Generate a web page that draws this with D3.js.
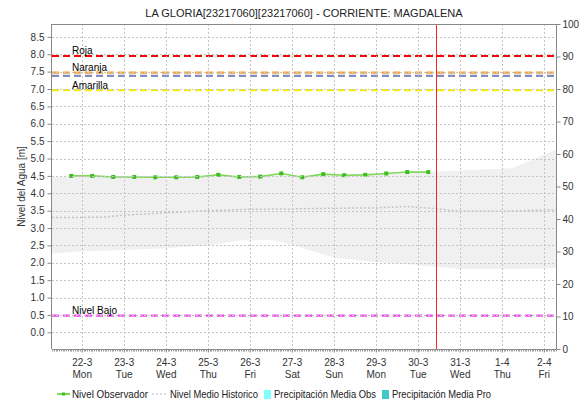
<!DOCTYPE html>
<html>
<head>
<meta charset="utf-8">
<script src="https://cdn.jsdelivr.net/npm/d3@7"></script>
<style>
  html, body { margin: 0; padding: 0; background: #ffffff; }
  svg { display: block; font-family: "Liberation Sans", Arial, sans-serif; }
</style>
</head>
<body>
<svg id="chart" width="582" height="404"></svg>
<script>
// Observed water level (m), every 12 hours
const obsTimes = [
  "2021-03-21T18:00", "2021-03-22T06:00", "2021-03-22T18:00", "2021-03-23T06:00",
  "2021-03-23T18:00", "2021-03-24T06:00", "2021-03-24T18:00", "2021-03-25T06:00",
  "2021-03-25T18:00", "2021-03-26T06:00", "2021-03-26T18:00", "2021-03-27T06:00",
  "2021-03-27T18:00", "2021-03-28T06:00", "2021-03-28T18:00", "2021-03-29T06:00",
  "2021-03-29T18:00", "2021-03-30T06:00"
];
const obsValues = [4.50, 4.50, 4.47, 4.47, 4.46, 4.46, 4.47, 4.53, 4.47, 4.48,
                   4.57, 4.46, 4.55, 4.52, 4.53, 4.57, 4.61, 4.61];

// Historical envelope: lower bound (m)
const histLowTimes = [
  "2021-03-21T07:00", "2021-03-22T00:00", "2021-03-23T00:00", "2021-03-24T00:00",
  "2021-03-25T00:00", "2021-03-25T18:00", "2021-03-26T12:00", "2021-03-27T00:00",
  "2021-03-28T00:00", "2021-03-29T00:00", "2021-03-30T00:00", "2021-03-31T00:00",
  "2021-04-01T00:00", "2021-04-02T07:00"
];
const histLowValues = [2.27, 2.33, 2.37, 2.42, 2.50, 2.64, 2.66, 2.52, 2.15, 2.02,
                       1.94, 1.82, 1.82, 1.84];

// Historical envelope: upper bound (m)
const histHighTimes = [
  "2021-03-21T07:00", "2021-03-24T00:00", "2021-03-27T00:00", "2021-03-29T00:00",
  "2021-03-30T12:00", "2021-04-01T06:00", "2021-04-02T07:00"
];
const histHighValues = [4.47, 4.47, 4.50, 4.55, 4.63, 4.72, 5.25];

// Historical mean level (m)
const histMeanTimes = [
  "2021-03-21T07:00", "2021-03-22T12:00", "2021-03-23T00:00", "2021-03-24T00:00",
  "2021-03-25T00:00", "2021-03-26T00:00", "2021-03-27T00:00", "2021-03-28T00:00",
  "2021-03-29T00:00", "2021-03-29T18:00", "2021-03-30T12:00", "2021-03-31T00:00",
  "2021-04-01T00:00", "2021-04-02T07:00"
];
const histMeanValues = [3.30, 3.31, 3.37, 3.44, 3.50, 3.54, 3.55, 3.57, 3.58, 3.62,
                        3.55, 3.48, 3.48, 3.53];

// Alert thresholds (m)
const thresholdNames  = ["Roja", "Naranja", "", "Amarilla", "Nivel Bajo"];
const thresholdValues = [7.95, 7.47, 7.38, 6.97, 0.48];
const thresholdColors = ["#ff0000", "#f5a030", "#7f8dbf", "#f4f000", "#ee44ee"];

// Current time marker
const nowTime = "2021-03-30T10:30";

// Axis ticks
const levelTicks = d3.range(0, 8.51, 0.5);
const precipTicks = [0, 10, 20, 30, 40, 50, 60, 70, 80, 90, 100];

const title = "LA GLORIA[23217060][23217060] - CORRIENTE: MAGDALENA";
const yTitle = "Nivel del Agua [m]";
const legendItems = ["Nivel Observador", "Nivel Medio Historico",
                     "Precipitación Media Obs", "Precipitación Media Pro"];

const parse = d3.timeParse("%Y-%m-%dT%H:%M");
const margin = { left: 52, right: 556, top: 24, bottom: 349 };

const svg = d3.select("#chart");

const x = d3.scaleTime()
  .domain([parse("2021-03-21T07:00"), parse("2021-04-02T07:00")])
  .range([margin.left, margin.right]);
const y = d3.scaleLinear().domain([-0.48, 8.87]).range([margin.bottom, margin.top]);
const y2 = d3.scaleLinear().domain([0, 100]).range([margin.bottom, margin.top]);

svg.append("defs").append("clipPath").attr("id", "plot-clip")
  .append("rect")
  .attr("x", margin.left).attr("y", margin.top)
  .attr("width", margin.right - margin.left).attr("height", margin.bottom - margin.top);

const plot = svg.append("g").attr("clip-path", "url(#plot-clip)");

// Historical envelope band (bounds linearly joined between their own sample times)
function interpAt(times, values, t) {
  const d = parse(t).getTime();
  const ts = times.map(s => parse(s).getTime());
  const i = d3.bisectRight(ts, d);
  if (i <= 0) return values[0];
  if (i >= ts.length) return values[ts.length - 1];
  const f = (d - ts[i - 1]) / (ts[i] - ts[i - 1]);
  return values[i - 1] + f * (values[i] - values[i - 1]);
}
const bandTimes = Array.from(new Set(histLowTimes.concat(histHighTimes))).sort();
const band = bandTimes.map(t => ({
  t: parse(t),
  lo: interpAt(histLowTimes, histLowValues, t),
  hi: interpAt(histHighTimes, histHighValues, t)
}));

plot.append("path")
  .datum(band)
  .attr("fill", "#f0f0f0")
  .attr("d", d3.area().x(d => x(d.t)).y0(d => y(d.lo)).y1(d => y(d.hi)));

// Grid
const dayTicks = x.ticks(d3.timeDay.every(1));
const grid = svg.append("g").attr("stroke", "#c4c4c4").attr("stroke-width", 1)
  .attr("stroke-dasharray", "2,2");
grid.selectAll("line.h").data(levelTicks).join("line")
  .attr("x1", margin.left).attr("x2", margin.right)
  .attr("y1", d => Math.round(y(d)) + 0.5).attr("y2", d => Math.round(y(d)) + 0.5);
grid.selectAll("line.v").data(dayTicks).join("line")
  .attr("y1", margin.top).attr("y2", margin.bottom)
  .attr("x1", d => Math.round(x(d)) + 0.5).attr("x2", d => Math.round(x(d)) + 0.5);

// Historical mean
plot.append("path")
  .datum(histMeanTimes.map((t, i) => ({ t: parse(t), v: histMeanValues[i] })))
  .attr("fill", "none").attr("stroke", "#c4c4c4").attr("stroke-width", 1.5)
  .attr("stroke-dasharray", "2,2")
  .attr("d", d3.line().x(d => x(d.t)).y(d => y(d.v)));

// Thresholds
const thr = plot.append("g");
thresholdValues.forEach((v, i) => {
  thr.append("line")
    .attr("x1", margin.left).attr("x2", margin.right)
    .attr("y1", y(v)).attr("y2", y(v))
    .attr("stroke", thresholdColors[i]).attr("stroke-width", 2.2)
    .attr("stroke-dasharray", "7,4");
});
thresholdValues.forEach((v, i) => {
  if (!thresholdNames[i]) return;
  svg.append("text")
    .attr("x", 72).attr("y", y(v) - 1.5)
    .attr("font-size", 10).attr("fill", "#000")
    .text(thresholdNames[i]);
});

// Observed level
const obs = obsTimes.map((t, i) => ({ t: parse(t), v: obsValues[i] }));
plot.append("path")
  .datum(obs)
  .attr("fill", "none").attr("stroke", "#7ed957").attr("stroke-width", 1.6)
  .attr("d", d3.line().x(d => x(d.t)).y(d => y(d.v)));
plot.selectAll("rect.pt").data(obs).join("rect")
  .attr("x", d => x(d.t) - 2).attr("y", d => y(d.v) - 2)
  .attr("width", 4).attr("height", 4)
  .attr("fill", "#3cbf1e");

// Current time marker
const nowX = Math.round(x(parse(nowTime))) + 0.5;
svg.append("line")
  .attr("x1", nowX).attr("x2", nowX)
  .attr("y1", margin.top).attr("y2", margin.bottom)
  .attr("stroke", "#ff2020").attr("stroke-width", 1);

// Frame
svg.append("line").attr("x1", margin.left).attr("x2", margin.right)
  .attr("y1", margin.top + 0.5).attr("y2", margin.top + 0.5)
  .attr("stroke", "#888").attr("stroke-width", 1);

// Left axis
const yAxis = svg.append("g")
  .attr("transform", `translate(${margin.left - 0.5},0)`)
  .call(d3.axisLeft(y).tickValues(levelTicks).tickFormat(d3.format(".1f"))
    .tickSize(4).tickPadding(3).tickSizeOuter(0));
yAxis.select(".domain").attr("stroke", "#888").attr("d", `M0,${margin.top}V${margin.bottom}`);
yAxis.selectAll(".tick line").attr("stroke", "#888");
yAxis.selectAll("text").attr("font-size", 10).attr("fill", "#333")
  .attr("font-family", "Liberation Sans, Arial, sans-serif");

// Right axis
const y2Axis = svg.append("g")
  .attr("transform", `translate(${margin.right + 0.5},0)`)
  .call(d3.axisRight(y2).tickValues(precipTicks).tickSize(4).tickPadding(2).tickSizeOuter(0));
y2Axis.select(".domain").attr("stroke", "#888").attr("d", `M0,${margin.top}V${margin.bottom}`);
y2Axis.selectAll(".tick line").attr("stroke", "#888");
y2Axis.selectAll("text").attr("font-size", 10).attr("fill", "#333")
  .attr("font-family", "Liberation Sans, Arial, sans-serif");

// Bottom axis: hourly minor ticks and daily labels
const hourTicks = x.ticks(d3.timeHour.every(1));
const xMinor = svg.append("g").attr("transform", `translate(0,${margin.bottom + 0.5})`);
xMinor.append("line").attr("x1", margin.left).attr("x2", margin.right)
  .attr("stroke", "#888");
xMinor.selectAll("line.m").data(hourTicks).join("line")
  .attr("x1", d => Math.round(x(d)) + 0.5).attr("x2", d => Math.round(x(d)) + 0.5)
  .attr("y1", 0).attr("y2", 2).attr("stroke", "#999");

const fmtDay = d3.timeFormat("%-d-%-m");
const fmtWeek = d3.timeFormat("%a");
const xAxis = svg.append("g")
  .attr("transform", `translate(0,${margin.bottom + 0.5})`)
  .call(d3.axisBottom(x).tickValues(dayTicks).tickSize(3).tickFormat(""));
xAxis.select(".domain").remove();
xAxis.selectAll(".tick line").attr("stroke", "#888");
xAxis.selectAll(".tick").each(function(d) {
  const g = d3.select(this);
  g.append("text").attr("y", 16).attr("text-anchor", "middle")
    .attr("font-size", 10).attr("fill", "#333").text(fmtDay(d));
  g.append("text").attr("y", 28).attr("text-anchor", "middle")
    .attr("font-size", 10).attr("fill", "#333").text(fmtWeek(d));
});

// Titles
svg.append("text")
  .attr("x", (margin.left + margin.right) / 2).attr("y", 17)
  .attr("text-anchor", "middle").attr("font-size", 11).attr("fill", "#222")
  .text(title);
svg.append("text")
  .attr("transform", `translate(25,${(margin.top + margin.bottom) / 2}) rotate(-90)`)
  .attr("text-anchor", "middle").attr("font-size", 10).attr("fill", "#333")
  .text(yTitle);

// Legend: symbol start, text start and text width for each entry
const legendSymbolX = [57, 152, 264, 382];
const legendTextX = [72, 170, 274, 392];
const legendTextW = [76, 88, 102, 99];
const legend = svg.append("g").attr("font-size", 10.5).attr("fill", "#222");
const ly = 394;
legend.append("line").attr("x1", legendSymbolX[0]).attr("x2", legendSymbolX[0] + 13)
  .attr("y1", ly).attr("y2", ly)
  .attr("stroke", "#55cc22").attr("stroke-width", 1.5);
legend.append("rect").attr("x", legendSymbolX[0] + 5).attr("y", ly - 1.5)
  .attr("width", 3).attr("height", 3).attr("fill", "#3cbf1e");
legend.append("line").attr("x1", legendSymbolX[1]).attr("x2", legendSymbolX[1] + 15)
  .attr("y1", ly).attr("y2", ly)
  .attr("stroke", "#d0d0d0").attr("stroke-width", 1.5).attr("stroke-dasharray", "2,2");
legend.append("rect").attr("x", legendSymbolX[2]).attr("y", ly - 4)
  .attr("width", 7).attr("height", 9).attr("fill", "#80ffff");
legend.append("rect").attr("x", legendSymbolX[3]).attr("y", ly - 4)
  .attr("width", 7).attr("height", 9).attr("fill", "#40c8c8");
legendItems.forEach((name, i) => {
  legend.append("text").attr("x", legendTextX[i]).attr("y", ly + 3.8)
    .attr("textLength", legendTextW[i]).attr("lengthAdjust", "spacingAndGlyphs")
    .text(name);
});
</script>
</body>
</html>
